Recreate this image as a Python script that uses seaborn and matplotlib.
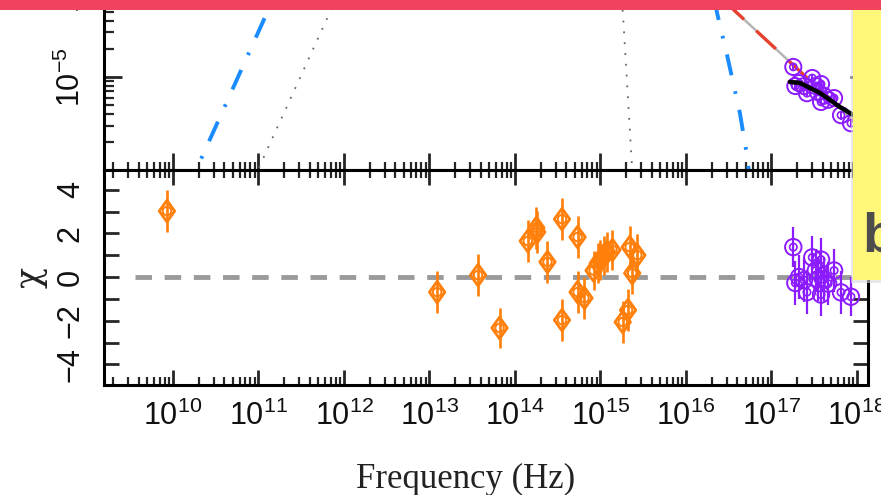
import numpy as np
import pandas as pd
import matplotlib
matplotlib.use("Agg")
import matplotlib.pyplot as plt
from matplotlib.ticker import FixedLocator, FixedFormatter, LogLocator, NullFormatter, MultipleLocator
from matplotlib.patches import Rectangle
from matplotlib.path import Path
import seaborn as sns

# ---------------- data ----------------
# X-ray data (purple)
xray_freq = [1.8e17, 1.9e17, 2.1e17, 2.4e17, 2.6e17, 3.0e17, 3.3e17, 3.5e17,
             3.8e17, 3.8e17, 4.1e17, 4.6e17, 5.4e17, 6.5e17, 8.5e17]
xray_flux = [1.28e-5, 8.0e-6, 8.6e-6, 8.0e-6, 6.7e-6, 9.75e-6, 8.0e-6, 6.9e-6,
             8.4e-6, 5.4e-6, 6.3e-6, 5.7e-6, 5.95e-6, 3.9e-6, 3.2e-6]
xray_flux_err = [0.9e-6, 0.7e-6, 0.7e-6, 0.7e-6, 0.6e-6, 0.8e-6, 0.7e-6, 0.6e-6,
                 0.7e-6, 0.5e-6, 0.6e-6, 0.5e-6, 0.5e-6, 0.4e-6, 0.3e-6]
xray_resid = [1.37, -0.27, 0.0, -0.14, -0.69, 0.9, 0.3, -0.1,
              0.8, -0.8, -0.1, -0.3, 0.3, -0.7, -0.9]
xray_resid_err = [0.9, 1.0, 1.0, 1.0, 1.0, 1.0, 1.0, 1.0, 1.0, 1.0, 1.0, 1.0, 1.0, 1.0, 0.9]

# radio-optical-UV residuals (orange)
opt_freq = [8.5e9, 1.23e13, 3.7e13, 6.6e13, 1.41e14, 1.82e14, 1.78e14, 2.4e14,
            3.55e14, 3.55e14, 5.4e14, 5.4e14, 6.5e14, 8.3e14, 9.3e14, 1.0e15,
            1.1e15, 1.2e15, 1.38e15, 1.82e15, 2.1e15, 2.2e15, 2.35e15, 2.7e15]
opt_resid = [3.02, -0.69, 0.09, -2.33, 1.65, 2.06, 2.25, 0.69,
             2.65, -1.97, 1.83, -0.69, -0.96, 0.30, 0.64, 0.78,
             1.0, 1.14, 1.24, -2.06, -1.51, 1.37, 0.18, 1.0]
opt_resid_err = [0.95, 0.95, 0.95, 0.9, 0.95, 0.95, 0.95, 0.95,
                 0.95, 0.95, 0.95, 0.95, 0.95, 0.9, 0.9, 0.9,
                 0.9, 0.9, 0.9, 0.95, 0.95, 0.95, 0.95, 0.95]

# model components (top panel), nu and nuFnu
blue_rise_freq = [1.41e10, 2.82e11]
blue_rise_flux = [5.75e-7, 2.5e-4]
dot_rise_freq = [7.94e10, 1.0e12]
dot_rise_flux = [6.6e-7, 1.05e-4]
dot_cut_freq = [1.66e15, 1.83e15, 2.33e15, 2.37e15]
dot_cut_flux = [1.3e-4, 4.83e-5, 1.15e-6, 8.9e-7]
blue_cut_freq = [2.0e16, 2.31e16, 3.02e16, 4.27e16, 5.16e16, 5.6e16]
blue_cut_flux = [1.0e-4, 4.83e-5, 1.72e-5, 4.12e-6, 1.47e-6, 7.9e-7]
total_freq = [2.82e16, 7.64e17, 1.58e18]
total_flux = [6.45e-5, 3.93e-6, 2.09e-6]
fold_freq = [1.64e17, 2.15e17, 2.82e17, 3.69e17, 4.83e17, 6.32e17, 8.97e17, 1.58e18]
fold_flux = [8.85e-6, 8.63e-6, 7.62e-6, 6.75e-6, 5.68e-6, 4.78e-6, 3.93e-6, 2.75e-6]
zero_freq = [3.6e9, 1.5e18]
zero_val = [0.0, 0.0]

xtick_vals = [1e10, 1e11, 1e12, 1e13, 1e14, 1e15, 1e16, 1e17, 1e18]
xtick_labels = ["$10^{10}$", "$10^{11}$", "$10^{12}$", "$10^{13}$", "$10^{14}$",
                "$10^{15}$", "$10^{16}$", "$10^{17}$", "$10^{18}$"]
ytop_vals = [1e-6, 1e-5, 1e-4]
ytop_labels = ["$10^{-6}$", "$10^{-5}$", "$10^{-4}$"]
ybot_vals = [-4, -2, 0, 2, 4]
ybot_labels = ["\u22124", "\u22122", "0", "2", "4"]

# ---------------- style ----------------
sns.set_theme(style="white")
plt.rcParams["font.family"] = ["Liberation Sans", "DejaVu Sans"]
plt.rcParams["mathtext.fontset"] = "custom"
plt.rcParams["mathtext.rm"] = "Liberation Sans"
plt.rcParams["mathtext.it"] = "Liberation Sans:italic"
plt.rcParams["mathtext.bf"] = "Liberation Sans:bold"
plt.rcParams["axes.unicode_minus"] = True

ORANGE = "#ff7f0a"
PURPLE = "#8c1cff"
BLUE = "#1a8cff"
RED = "#e8402f"

W, H = 881, 495
fig = plt.figure(figsize=(W / 100, H / 100), dpi=100)
fig.patch.set_facecolor("white")

def fx(px):
    return px / W

def fy(py):
    return 1 - py / H

left, right = 104, 868
ax_top = fig.add_axes([fx(left), fy(170), fx(right - left), (170 + 30) / H])
ax_bot = fig.add_axes([fx(left), fy(385), fx(right - left), (385 - 170) / H])

for ax in (ax_top, ax_bot):
    ax.set_facecolor("white")
    ax.set_xscale("log")
    ax.set_xlim(10 ** 9.193, 10 ** 18.129)
    for s in ax.spines.values():
        s.set_visible(True)
        s.set_linewidth(2.2)
        s.set_color("black")
    ax.xaxis.set_major_locator(FixedLocator(xtick_vals))
    ax.xaxis.set_minor_locator(LogLocator(base=10, subs=np.arange(2, 10), numticks=100))
    ax.xaxis.set_minor_formatter(NullFormatter())
    ax.grid(False)

ax_top.set_yscale("log")
ax_top.set_ylim(10 ** -5.995, 10 ** -3.856)

# ---------------- top panel ----------------
def line(ax, xs, ys, **kw):
    sns.lineplot(x=xs, y=ys, ax=ax, estimator=None, sort=False, legend=False, **kw)

line(ax_top, blue_rise_freq, blue_rise_flux, color=BLUE, lw=2.8, linestyle=(0, (5.5, 4.2, 0.7, 4.2)))
line(ax_top, blue_cut_freq, blue_cut_flux, color=BLUE, lw=2.8, linestyle=(0, (5.5, 4.2, 0.7, 4.2)))
line(ax_top, dot_rise_freq, dot_rise_flux, color="#666666", lw=1.3, linestyle=(0, (1, 5)))
line(ax_top, dot_cut_freq, dot_cut_flux, color="#666666", lw=1.3, linestyle=(0, (1, 5)))
line(ax_top, total_freq, total_flux, color="#b5b5b5", lw=1.8)
line(ax_top, total_freq, total_flux, color=RED, lw=2.4, linestyle=(0, (8, 5)))

ax_top.errorbar(xray_freq, xray_flux, yerr=xray_flux_err, fmt="none",
                ecolor=PURPLE, elinewidth=1.4, capsize=0, zorder=3)
sns.scatterplot(x=xray_freq, y=xray_flux, ax=ax_top, marker="o", s=135,
                color=PURPLE, facecolor="none", edgecolor=PURPLE, linewidth=1.4, zorder=4, legend=False)
sns.scatterplot(x=xray_freq, y=xray_flux, ax=ax_top, marker="o", s=26,
                color=PURPLE, facecolor="none", edgecolor=PURPLE, linewidth=1.2, zorder=4, legend=False)
line(ax_top, fold_freq, fold_flux, color="black", lw=3.2)
ax_top.lines[-1].set_zorder(5)

ax_top.yaxis.set_major_locator(FixedLocator(ytop_vals))
ax_top.yaxis.set_major_formatter(FixedFormatter(ytop_labels))
ax_top.yaxis.set_minor_locator(LogLocator(base=10, subs=np.arange(2, 10), numticks=100))
ax_top.yaxis.set_minor_formatter(NullFormatter())
ax_top.tick_params(axis="x", which="major", direction="in", length=12, width=2.0,
                   bottom=True, top=True, labelbottom=False)
ax_top.tick_params(axis="x", which="minor", direction="in", length=5.5, width=1.6,
                   bottom=True, top=True)
ax_top.tick_params(axis="y", which="major", direction="in", length=13, width=2.0,
                   left=True, right=True, labelsize=22, labelrotation=90, pad=12,
                   labelcolor="#111111")
ax_top.tick_params(axis="y", which="minor", direction="in", length=7, width=1.6,
                   left=True, right=True)
for t in ax_top.get_yticklabels():
    t.set_va("center")
ax_top.set_xlabel("")
ax_top.set_ylabel("")

# ---------------- bottom panel ----------------
diamond = Path([(0, 1), (0.72, 0), (0, -1), (-0.72, 0), (0, 1)],
               [Path.MOVETO, Path.LINETO, Path.LINETO, Path.LINETO, Path.CLOSEPOLY])

line(ax_bot, zero_freq, zero_val, color="#9a9a9a", lw=3.5, linestyle=(0, (3.4, 2.6)))

ax_bot.errorbar(opt_freq, opt_resid, yerr=opt_resid_err, fmt="none",
                ecolor=ORANGE, elinewidth=1.9, capsize=0, zorder=3)
sns.scatterplot(x=opt_freq, y=opt_resid, ax=ax_bot, marker=diamond, s=240,
                color=ORANGE, facecolor="none", edgecolor=ORANGE, linewidth=2.0, zorder=4, legend=False)
sns.scatterplot(x=opt_freq, y=opt_resid, ax=ax_bot, marker="o", s=38,
                color=ORANGE, facecolor="none", edgecolor=ORANGE, linewidth=1.4, zorder=4, legend=False)

ax_bot.errorbar(xray_freq, xray_resid, yerr=xray_resid_err, fmt="none",
                ecolor=PURPLE, elinewidth=1.6, capsize=0, zorder=3)
sns.scatterplot(x=xray_freq, y=xray_resid, ax=ax_bot, marker="o", s=140,
                color=PURPLE, facecolor="none", edgecolor=PURPLE, linewidth=1.4, zorder=4, legend=False)
sns.scatterplot(x=xray_freq, y=xray_resid, ax=ax_bot, marker="o", s=28,
                color=PURPLE, facecolor="none", edgecolor=PURPLE, linewidth=1.2, zorder=4, legend=False)

ax_bot.set_ylim(-4.94, 4.90)
ax_bot.yaxis.set_major_locator(FixedLocator(ybot_vals))
ax_bot.yaxis.set_major_formatter(FixedFormatter(ybot_labels))
ax_bot.yaxis.set_minor_locator(MultipleLocator(1))
ax_bot.xaxis.set_major_formatter(FixedFormatter(xtick_labels))
ax_bot.tick_params(axis="x", which="major", direction="in", length=11, width=2.0,
                   bottom=True, top=True, labelsize=22, pad=11, labelcolor="#111111")
ax_bot.tick_params(axis="x", which="minor", direction="in", length=5.5, width=1.6,
                   bottom=True, top=True)
ax_bot.tick_params(axis="y", which="both", direction="in", length=11, width=2.0,
                   left=True, right=True, labelsize=22, labelrotation=90, pad=13,
                   labelcolor="#111111")
for t in ax_bot.get_yticklabels():
    t.set_va("center")

ax_bot.set_xlabel("Frequency (Hz)", family=["Liberation Serif", "DejaVu Serif"],
                  fontsize=25, color="#222222", va="baseline")
ax_bot.xaxis.set_label_coords((466 - left) / (right - left), (385 - 488) / 215)
ax_bot.set_ylabel("\u03c7", family=["DejaVu Serif", "DejaVu Sans"], fontsize=25,
                  color="#222222", va="center", rotation=90)
ax_bot.yaxis.set_label_coords((31 - left) / (right - left), 0.5)

# ---------------- overlays (red bar, yellow note) ----------------
fig.add_artist(Rectangle((fx(851), fy(283)), fx(30), 273 / H, transform=fig.transFigure,
                         facecolor="#d9d9d9", edgecolor="none", zorder=9, alpha=0.6))
fig.add_artist(Rectangle((fx(853), fy(280)), fx(28), 270 / H, transform=fig.transFigure,
                         facecolor="#fff779", edgecolor="none", zorder=10))
fig.text(fx(862), fy(252), "b", fontsize=40, fontweight="bold", color="#4d4d4d",
         ha="left", va="baseline", zorder=11)
fig.add_artist(Rectangle((0, fy(10)), 1, 10 / H, transform=fig.transFigure,
                         facecolor="#f1435f", edgecolor="none", zorder=12))

fig.savefig("out.png", dpi=100)
